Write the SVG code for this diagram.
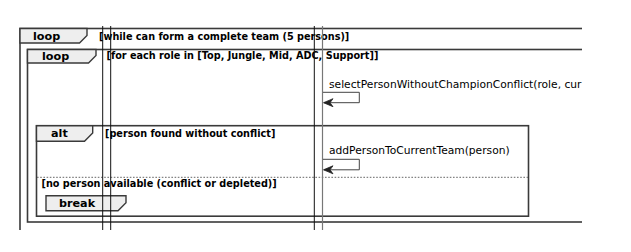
<svg xmlns="http://www.w3.org/2000/svg" width="631" height="252" viewBox="0 0 631 252">
  <style>
    .frame { fill: none; stroke: #3a3a3a; stroke-width: 1.6; }
    .tab { fill: #eeeeee; stroke: #3a3a3a; stroke-width: 1.4; }
    .tabtxt { font-family: "DejaVu Sans", sans-serif; font-weight: bold; font-size: 11.2px; fill: #000; }
    .guard { font-family: "DejaVu Sans", sans-serif; font-weight: bold; font-size: 9.7px; fill: #000; }
    .msg { font-family: "DejaVu Sans", sans-serif; font-size: 10.7px; fill: #000; }
    .life { stroke: #111; stroke-width: 1; }
    .life2 { stroke: #777; stroke-width: 1.2; }
    .arrow { fill: none; stroke: #444; stroke-width: 1; }
    .head { fill: #222; stroke: #222; stroke-width: 0.8; }
    .sep { stroke: #666; stroke-width: 1; stroke-dasharray: 1.6 1.6; }
  </style>
  <defs>
    <clipPath id="view">
      <rect x="0" y="0" width="582" height="230"/>
    </clipPath>
  </defs>
  <rect width="631" height="252" fill="#fff"/>
  <g clip-path="url(#view)">
    <!-- outer loop -->
    <g id="loop-outer">
      <rect class="frame" x="20" y="28.5" width="600" height="220"/>
      <path class="tab" d="M20,28.5 H87 V35.5 L79.5,43 H20 Z"/>
      <text class="tabtxt" x="33" y="39.5">loop</text>
      <text class="guard" x="99" y="39.5">[while can form a complete team (5 persons)]</text>
    </g>
    <!-- inner loop -->
    <g id="loop-inner">
      <rect class="frame" x="27.5" y="49.5" width="600" height="172.5"/>
      <path class="tab" d="M27.5,49.5 H96 V55.5 L88.5,63 H27.5 Z"/>
      <text class="tabtxt" x="42" y="59.5">loop</text>
      <text class="guard" x="106.5" y="59">[for each role in [Top, Jungle, Mid, ADC, Support]]</text>
    </g>
    <!-- alt -->
    <g id="alt">
      <rect class="frame" x="36.5" y="125.7" width="492" height="90.5"/>
      <path class="tab" d="M36.5,125.7 H92.7 V133 L84.5,141.2 H36.5 Z"/>
      <text class="tabtxt" x="51" y="136.5">alt</text>
      <text class="guard" x="105" y="136.5">[person found without conflict]</text>
      <line class="sep" x1="37" y1="177.3" x2="528" y2="177.3"/>
      <text class="guard" x="41.5" y="186.5">[no person available (conflict or depleted)]</text>
    </g>
    <!-- break -->
    <g id="break">
      <path class="tab" d="M46,195.7 H126 V202.7 L118,210.7 H46 Z"/>
      <text class="tabtxt" x="59" y="206.5">break</text>
    </g>
    <!-- lifelines -->
    <g id="lifelines">
      <line class="life" x1="102.7" y1="26" x2="102.7" y2="230"/>
      <line class="life" x1="110.7" y1="26" x2="110.7" y2="230"/>
      <line class="life" x1="314.3" y1="26" x2="314.3" y2="230"/>
      <line class="life2" x1="322.5" y1="26" x2="322.5" y2="230"/>
    </g>
    <!-- self messages -->
    <g id="connectors">
      <text class="msg" x="329" y="87.5">selectPersonWithoutChampionConflict(role, cur</text>
      <path class="arrow" d="M323,92.3 H359.3 V102.7 H324"/>
      <path class="head" d="M323.5,102.7 L333,98.7 L330,102.7 L333,106.7 Z"/>
      <text class="msg" x="329" y="154">addPersonToCurrentTeam(person)</text>
      <path class="arrow" d="M323,159.3 H359.3 V169.8 H324"/>
      <path class="head" d="M323.5,169.8 L333,165.8 L330,169.8 L333,173.8 Z"/>
    </g>
  </g>
</svg>
